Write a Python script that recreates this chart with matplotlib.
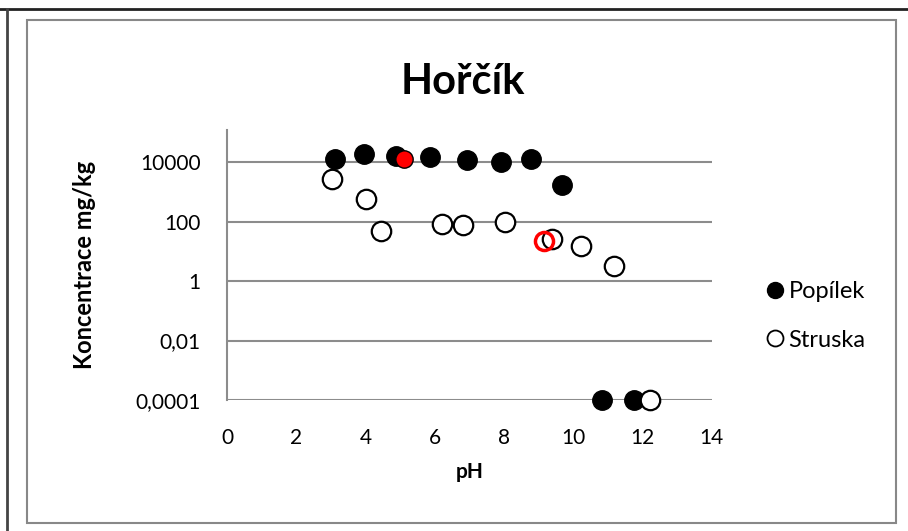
import matplotlib.pyplot as plt
from matplotlib.patches import Rectangle
from matplotlib.lines import Line2D
from matplotlib.ticker import FixedLocator, NullLocator

plt.rcParams['font.family'] = ['Lato', 'DejaVu Sans']

# Popilek (fly ash)
popilek_ph = [3.11, 3.97, 4.87, 5.86, 6.93, 7.92, 8.79, 9.67, 10.83, 11.75]
popilek_c = [13000, 18000, 16000, 15000, 12000, 10200, 12600, 1650, 0.0001, 0.0001]

# Struska (slag)
struska_ph = [3.03, 4.02, 4.46, 6.22, 6.82, 8.04, 9.38, 10.22, 11.18, 12.2]
struska_c = [2750, 560, 47, 83, 78, 98, 26, 15, 3.1, 0.0001]

# highlighted points (red)
red_fill_ph = [5.12]
red_fill_c = [12300]
red_open_ph = [9.15]
red_open_c = [22]

yticks = [0.0001, 0.01, 1, 100, 10000]
ytick_labels = ['0,0001', '0,01', '1', '100', '10000']
xticks = [0, 2, 4, 6, 8, 10, 12, 14]

fig = plt.figure(figsize=(9.08, 5.31), dpi=100)
ax = fig.add_axes([0.25, 0.2467, 0.534, 0.5085])

# outer frame
fig.add_artist(Line2D([0, 1], [0.983, 0.983], color='#222222', lw=2))
fig.add_artist(Line2D([0.0077, 0.0077], [0, 0.983], color='#444444', lw=2))
fig.add_artist(Rectangle((0.0297, 0.015), 0.957, 0.947, transform=fig.transFigure,
                         fill=False, edgecolor='#888888', lw=1.5))

ax.set_yscale('log')
ax.set_ylim(0.0001, 1.2e5)
ax.set_xlim(0, 14)

for y in yticks:
    ax.axhline(y, color='#8c8c8c', lw=1.5, zorder=1)

ms = 14
ax.plot(popilek_ph, popilek_c, 'o', ms=ms, color='black', mec='black', zorder=3, clip_on=False)
ax.plot(struska_ph, struska_c, 'o', ms=ms, mfc='white', mec='black', mew=1.6, zorder=4, clip_on=False)
ax.plot(red_fill_ph, red_fill_c, 'o', ms=12.5, color='red', mec='black', mew=1, zorder=5)
ax.plot(red_open_ph, red_open_c, 'o', ms=13, mfc='none', mec='red', mew=2.5, zorder=5)

ax.yaxis.set_major_locator(FixedLocator(yticks))
ax.yaxis.set_minor_locator(NullLocator())
ax.set_yticklabels(ytick_labels)
ax.set_xticks(xticks)
ax.tick_params(axis='both', length=0, labelsize=15)
ax.tick_params(axis='x', pad=20)
ax.tick_params(axis='y', pad=19)

for s in ['top', 'right', 'bottom']:
    ax.spines[s].set_visible(False)
ax.spines['left'].set_color('#8c8c8c')
ax.spines['left'].set_linewidth(1.5)

ax.set_title('Hořčík', fontsize=30, fontweight='bold', pad=26, x=0.486)
ax.set_xlabel('pH', fontsize=15, fontweight='bold', labelpad=10)
ax.set_ylabel('Koncentrace mg/kg', fontsize=17, fontweight='bold', labelpad=28)

h1 = Line2D([], [], marker='o', ls='none', ms=11.5, color='black')
h2 = Line2D([], [], marker='o', ls='none', ms=11.5, mfc='white', mec='black', mew=1.3)
fig.legend([h1, h2], ['Popílek', 'Struska'], loc='center left',
           bbox_to_anchor=(0.814, 0.405), frameon=False, fontsize=17,
           handletextpad=0.0, labelspacing=1.15, handlelength=1.2)

fig.savefig('out.png', dpi=100)
